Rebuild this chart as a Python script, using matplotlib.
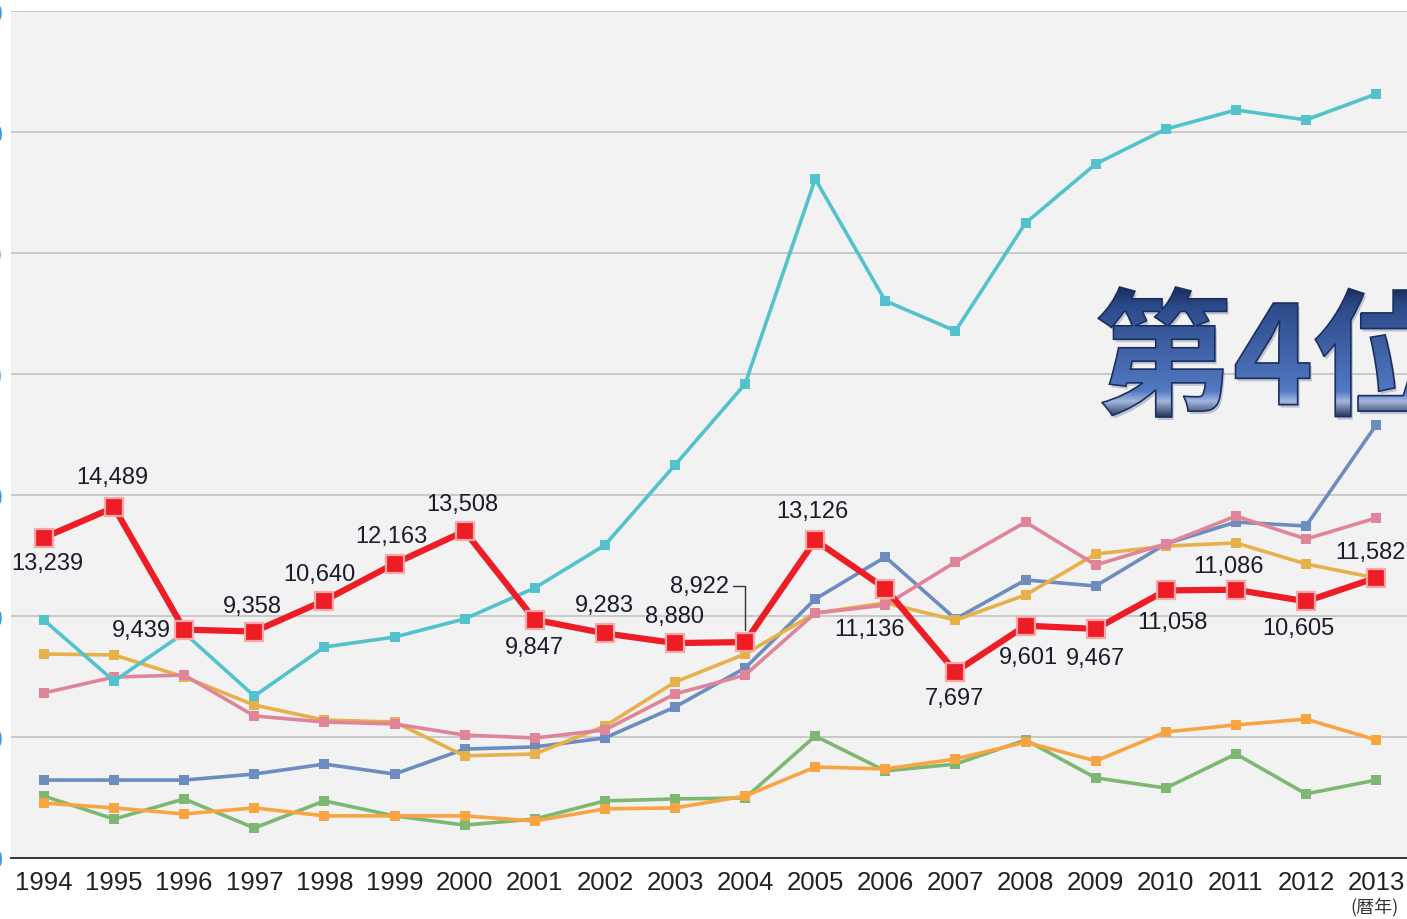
import matplotlib
matplotlib.use('Agg')
import matplotlib.pyplot as plt
import numpy as np
from matplotlib.font_manager import FontProperties
from matplotlib.textpath import TextPath
from matplotlib.patches import PathPatch
from matplotlib.transforms import Affine2D
from matplotlib.colors import LinearSegmentedColormap

plt.rcParams['font.family'] = ['Liberation Sans', 'Noto Sans CJK JP', 'DejaVu Sans']

years = list(range(1994, 2014))

# 赤線 (主役の系列)
red_vals = [13239, 14489, 9439, 9358, 10640, 12163, 13508, 9847, 9283, 8880,
            8922, 13126, 11136, 7697, 9601, 9467, 11058, 11086, 10605, 11582]
# 他の系列
cyan_vals = [9830, 7310, 9300, 6690, 8720, 9130, 9880, 11160, 12930, 16240,
             19590, 28060, 23020, 21780, 26240, 28680, 30120, 30910, 30500, 31570]
pink_vals = [6820, 7480, 7560, 5870, 5620, 5540, 5080, 4960, 5290, 6780,
             7560, 10120, 10450, 12230, 13880, 12110, 12980, 14130, 13180, 14050]
gold_vals = [8430, 8390, 7480, 6320, 5700, 5620, 4220, 4300, 5450, 7270,
             8430, 10120, 10540, 9830, 10870, 12560, 12890, 13020, 12150, 11570]
blue_vals = [3220, 3220, 3220, 3470, 3880, 3470, 4500, 4590, 4960, 6240,
             7850, 10700, 12440, 9880, 11490, 11240, 12980, 13880, 13720, 17890]
orange_vals = [2270, 2070, 1820, 2070, 1740, 1740, 1740, 1530, 2030, 2070,
               2560, 3760, 3680, 4090, 4790, 4010, 5210, 5500, 5740, 4880]
green_vals = [2560, 1610, 2440, 1240, 2360, 1740, 1360, 1610, 2360, 2440,
              2480, 5040, 3600, 3880, 4880, 3310, 2890, 4300, 2650, 3220]

# ラベルの位置 (マーカーからのずれ, ピクセル)
label_offsets = [(3, -25), (-2, 30), (-43, 0), (-2, 26), (-5, 27), (-3, 28), (-2, 27),
                 (0, -27), (-1, 28), (0, 27), (-45, 56), (-3, 29), (-16, -40), (-1, -26),
                 (3, -31), (0, -29), (7, -32), (-7, 24), (-8, -27), (-6, 26)]

W, H = 1407, 920
fig = plt.figure(figsize=(W / 100, H / 100), dpi=100)
fig.patch.set_facecolor('white')
ax = fig.add_axes([11 / W, 1 - 859 / H, 1 - 11 / W, (859 - 12) / H])
ax.set_facecolor('#f2f2f2')

ax.set_xlim(1993.53, 2013.44)
ax.set_ylim(0, 35000)
ax.set_yticks(range(0, 35001, 5000))
ax.set_yticklabels([f'{v:,}' for v in range(0, 35001, 5000)], color='#3a9ee0', fontsize=18)
ax.tick_params(axis='y', length=0, pad=6)
ax.set_xticks(years)
ax.set_xticklabels([str(y) for y in years], fontsize=18.5, color='#222222')
ax.tick_params(axis='x', length=0, pad=9)
ax.grid(axis='y', color='#c9c9c9', linewidth=1.4)
ax.set_axisbelow(True)
for s in ['left', 'right', 'top']:
    ax.spines[s].set_visible(False)
ax.spines['bottom'].set_color('#333333')
ax.spines['bottom'].set_linewidth(1.4)

series = [
    (green_vals, '#7db873'),
    (orange_vals, '#f9a443'),
    (blue_vals, '#6d8cc0'),
    (gold_vals, '#e6b04a'),
    (pink_vals, '#e0849a'),
    (cyan_vals, '#52c2cd'),
]
for vals, c in series:
    ax.plot(years, vals, color=c, linewidth=2.6, marker='s', markersize=7.5,
            markeredgewidth=0, zorder=3)

ax.plot(years, red_vals, color='#ee1c25', linewidth=4.5, marker='s', markersize=13,
        markerfacecolor='#ee1c25', markeredgecolor='#f8a8a8', markeredgewidth=1.6, zorder=5)

for i, (yr, v) in enumerate(zip(years, red_vals)):
    dx, dy = label_offsets[i]
    if yr == 2004:
        ax.annotate(f'{v:,}', (yr, v), xytext=(dx + 29, dy), textcoords='offset pixels',
                    ha='right', va='center', fontsize=17, color='#1b1b2b',
                    zorder=6,
                    arrowprops=dict(arrowstyle='-', color='#333333', lw=1.0, relpos=(1, 0.5),
                                    connectionstyle='angle,angleA=0,angleB=90,rad=0',
                                    shrinkA=1, shrinkB=9))
    else:
        ax.annotate(f'{v:,}', (yr, v), xytext=(dx, dy), textcoords='offset pixels',
                    ha='center', va='center', fontsize=17, color='#1b1b2b', zorder=6)

fig.text(1375 / W, 1 - 907 / H, '(暦年)', ha='center', va='center', fontsize=13,
         color='#333333', family=['Noto Sans CJK JP', 'DejaVu Sans'])

# 「第4位」 グラデーション文字
ov = fig.add_axes([0, 0, 1, 1], facecolor='none')
ov.set_xlim(0, W)
ov.set_ylim(0, H)
ov.axis('off')
fp = FontProperties(family='Noto Sans CJK JP', weight='bold')
tp = TextPath((0, 0), '第4位', size=100, prop=fp)
ext = tp.get_extents()
sc = 130 / ext.height
x0, y0 = 1098, H - 418
tr = Affine2D().translate(-ext.x0, -ext.y0).scale(sc).translate(x0, y0)
shadow = PathPatch(tp, transform=tr + Affine2D().translate(2, -3) + ov.transData,
                   facecolor='#9aa6bd', edgecolor='none', alpha=0.6, zorder=1)
ov.add_patch(shadow)
patch = PathPatch(tp, transform=tr + ov.transData, facecolor='none',
                  edgecolor='#1c2f5e', linewidth=1.2, zorder=3)
ov.add_patch(patch)
cmap = LinearSegmentedColormap.from_list('g', [
    (0.0, '#1a2c5a'), (0.15, '#2c4b8a'), (0.55, '#4467ad'), (0.8, '#5279c2'),
    (0.88, '#a3b7de'), (1.0, '#27345a')])
grad = np.linspace(0, 1, 256).reshape(-1, 1)
im = ov.imshow(grad, cmap=cmap, aspect='auto', origin='upper',
               extent=[x0 - 5, x0 + 520, y0, y0 + 130], zorder=2)
clip = PathPatch(tp, transform=tr + ov.transData, facecolor='none', edgecolor='none')
ov.add_patch(clip)
im.set_clip_path(clip)
ov.set_xlim(0, W)
ov.set_ylim(0, H)

fig.savefig('out.png', dpi=100)
